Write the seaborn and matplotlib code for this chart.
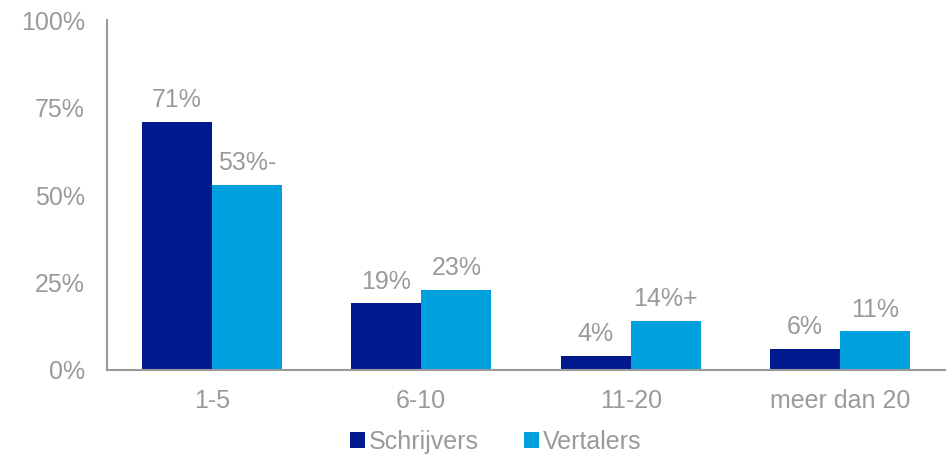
import pandas as pd
import matplotlib.pyplot as plt
import seaborn as sns

# data
categories = ["1-5", "6-10", "11-20", "meer dan 20"]
schrijvers = [71, 19, 4, 6]
vertalers = [53, 23, 14, 11]
schrijvers_labels = ["71%", "19%", "4%", "6%"]
vertalers_labels = ["53%-", "23%", "14%+", "11%"]

df = pd.DataFrame({
    "Categorie": categories * 2,
    "Waarde": schrijvers + vertalers,
    "Groep": ["Schrijvers"] * 4 + ["Vertalers"] * 4,
})

sns.set_style("white")
plt.rcParams["font.family"] = ["Liberation Sans", "DejaVu Sans"]
grey = "#9a9a9a"
fs = 18

fig = plt.figure(figsize=(9.53, 4.59), dpi=100)
ax = fig.add_axes([0.1123, 0.194, 0.8793, 0.762])

sns.barplot(data=df, x="Categorie", y="Waarde", hue="Groep",
            palette=["#001a8e", "#00a0df"], width=0.67, gap=0,
            saturation=1, linewidth=0, ax=ax)

for cont, labs in zip(ax.containers, [schrijvers_labels, vertalers_labels]):
    ax.bar_label(cont, labels=labs, padding=7, fontsize=fs, color=grey)

ax.set_ylim(0, 100)
ax.set_yticks([0, 25, 50, 75, 100])
ax.set_yticklabels(["0%", "25%", "50%", "75%", "100%"])
ax.set_xlim(-0.5, 3.5)
ax.set_xlabel("")
ax.set_ylabel("")
ax.tick_params(axis="both", length=0, labelsize=fs, labelcolor=grey)
ax.tick_params(axis="y", pad=16)
ax.tick_params(axis="x", pad=14)

for s in ["top", "right"]:
    ax.spines[s].set_visible(False)
for s in ["left", "bottom"]:
    ax.spines[s].set_color(grey)
    ax.spines[s].set_linewidth(1.5)

leg = ax.legend(loc="upper center", bbox_to_anchor=(0.464, -0.135), ncol=2,
                frameon=False, fontsize=fs, handlelength=0.6,
                handleheight=0.6, handletextpad=0.15, columnspacing=1.8,
                borderpad=0)
for t in leg.get_texts():
    t.set_color(grey)

fig.savefig("out.png", dpi=100)
